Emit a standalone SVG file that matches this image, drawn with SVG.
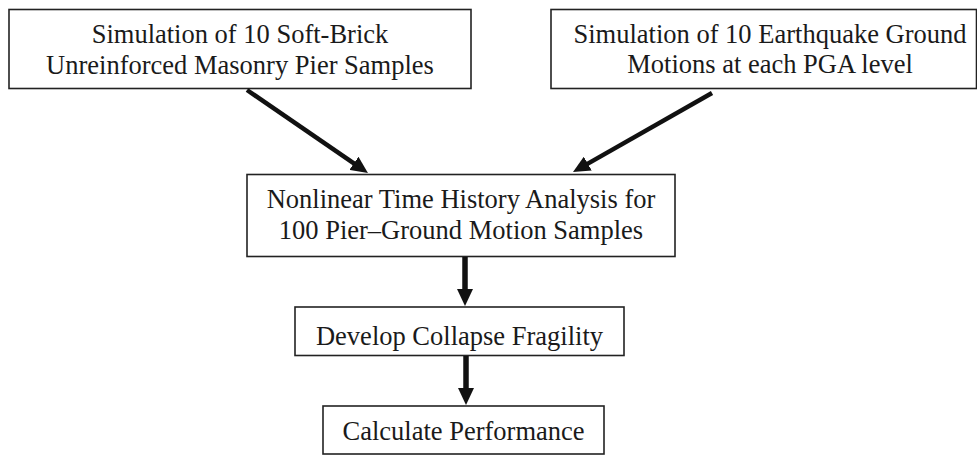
<svg xmlns="http://www.w3.org/2000/svg" width="977" height="455" viewBox="0 0 977 455">
  <style>
    .box { fill: #ffffff; stroke: #222222; stroke-width: 1.6; }
    .lbl { font-family: "Liberation Serif", "Times New Roman", serif; font-size: 26.5px; fill: #1a1a1a; text-anchor: middle; }
    .arr { stroke: #111111; fill: none; marker-end: url(#ah); }
    .diag { stroke-width: 4.5; }
    .vert { stroke-width: 5.5; }
  </style>
  <defs>
    <marker id="ah" viewBox="0 0 17 16" refX="7" refY="8" markerWidth="17" markerHeight="16" markerUnits="userSpaceOnUse" orient="auto">
      <path d="M0,0 L17,8 L0,16 z" fill="#111111"/>
    </marker>
  </defs>
  <rect width="977" height="455" fill="#ffffff"/>

  <g id="node-soft-brick">
    <rect class="box" x="9" y="9.5" width="462" height="79"/>
    <text class="lbl" x="240" y="43">Simulation of 10 Soft-Brick</text>
    <text class="lbl" x="240" y="74">Unreinforced Masonry Pier Samples</text>
  </g>

  <g id="node-ground-motions">
    <rect class="box" x="551" y="9.5" width="425.5" height="79"/>
    <text class="lbl" x="770" y="43">Simulation of 10 Earthquake Ground</text>
    <text class="lbl" x="770" y="73">Motions at each PGA level</text>
  </g>

  <g id="node-nonlinear">
    <rect class="box" x="247" y="174.5" width="428" height="82"/>
    <text class="lbl" x="461" y="208">Nonlinear Time History Analysis for</text>
    <text class="lbl" x="461" y="239">100 Pier–Ground Motion Samples</text>
  </g>

  <g id="node-fragility">
    <rect class="box" x="295" y="307" width="329" height="48.5"/>
    <text class="lbl" x="459.5" y="345">Develop Collapse Fragility</text>
  </g>

  <g id="node-performance">
    <rect class="box" x="323" y="406" width="281" height="48"/>
    <text class="lbl" x="463.5" y="440">Calculate Performance</text>
  </g>

  <g id="connectors">
    <line class="arr diag" x1="247" y1="90" x2="359.7" y2="167.3"/>
    <line class="arr diag" x1="712" y1="93" x2="581.7" y2="167.1"/>
    <line class="arr vert" x1="465" y1="257" x2="465" y2="296"/>
    <line class="arr vert" x1="466" y1="356" x2="466" y2="395"/>
  </g>
</svg>
